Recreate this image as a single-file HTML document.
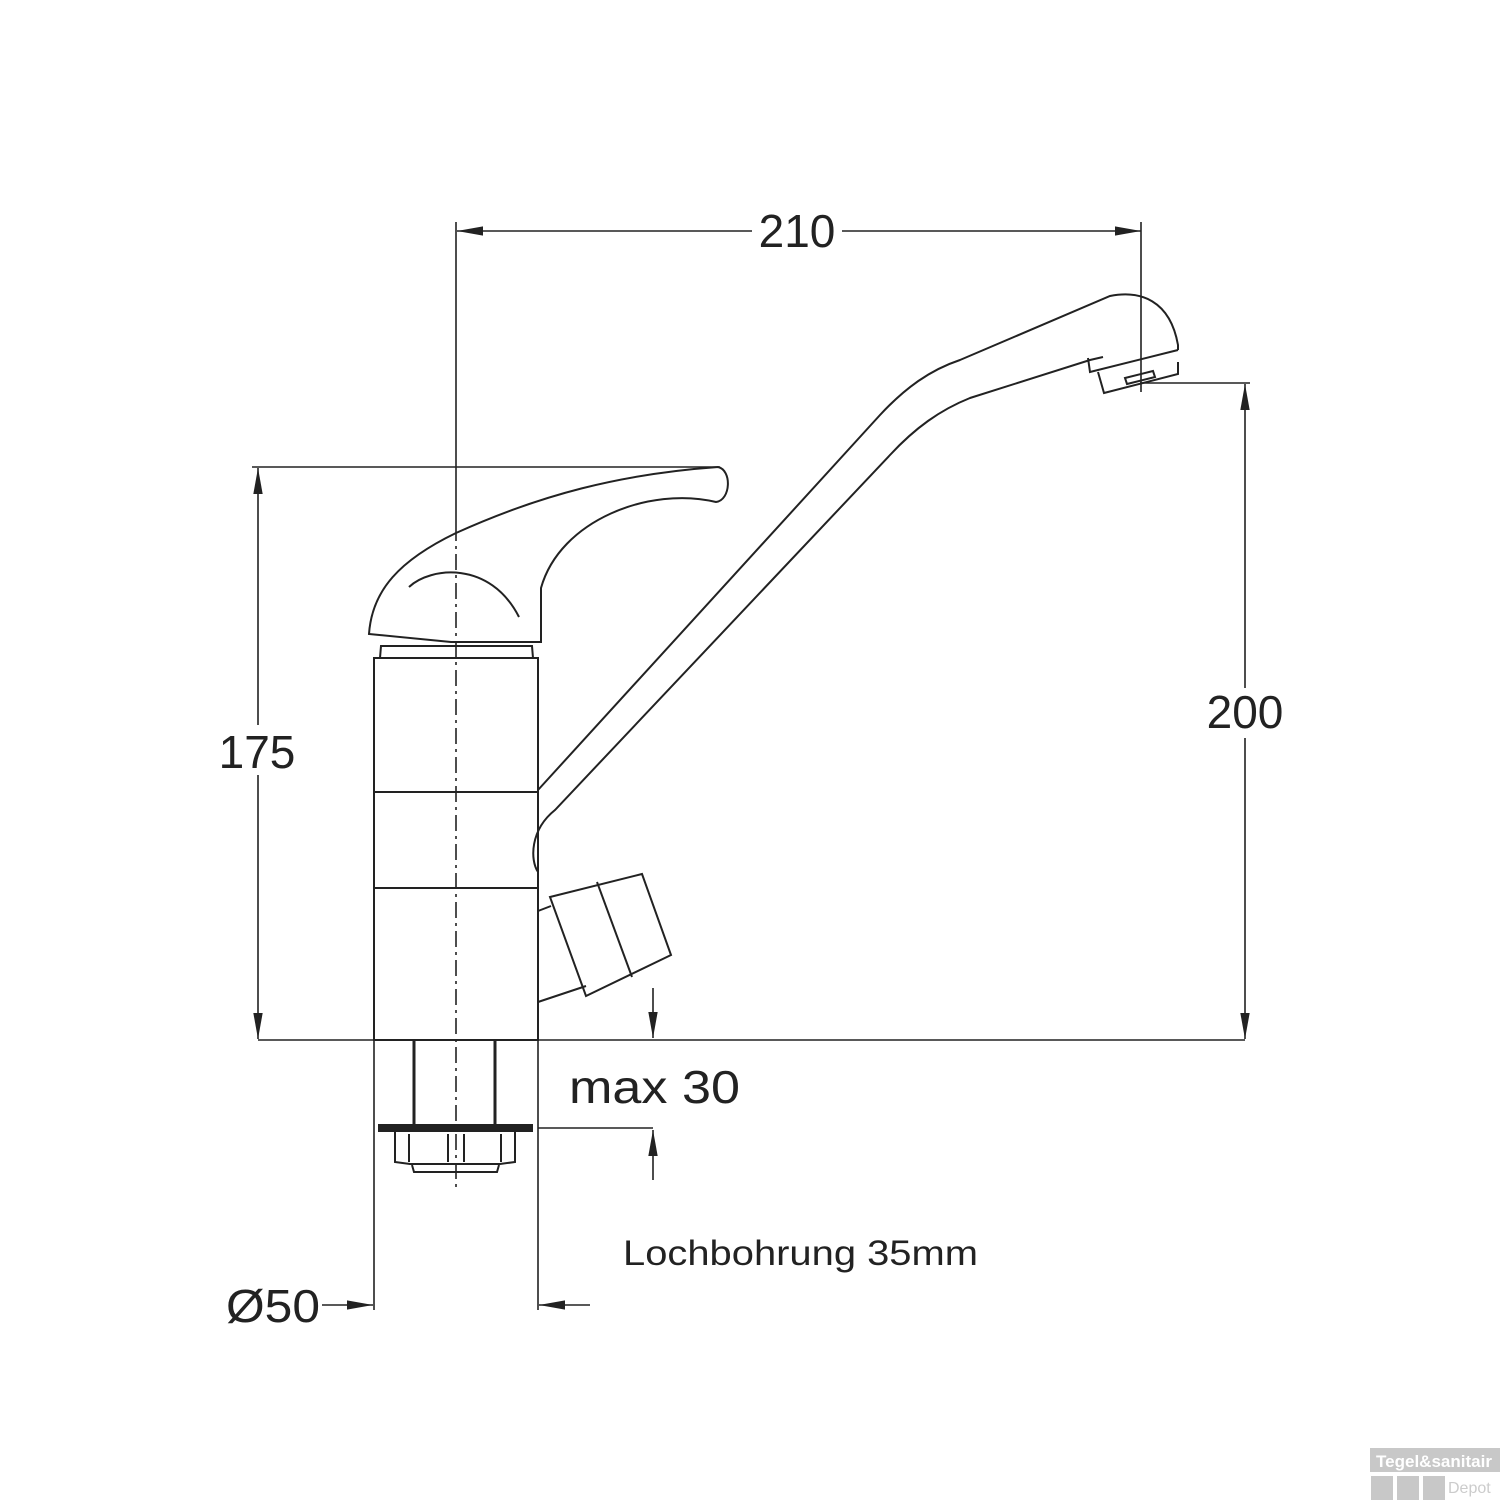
<!DOCTYPE html>
<html><head><meta charset="utf-8"><style>html,body{margin:0;padding:0;background:#fff}svg{display:block}</style></head>
<body>
<svg width="1500" height="1500" viewBox="0 0 1500 1500" xmlns="http://www.w3.org/2000/svg">
<defs>
<marker id="a" viewBox="0 0 10 10" refX="10" refY="5" markerWidth="26" markerHeight="26" markerUnits="userSpaceOnUse" orient="auto-start-reverse"><path d="M0,3.2 L10,5 L0,6.8 z" fill="#222"/></marker>
</defs>
<g fill="none" stroke="#222" stroke-width="2">
<line x1="457" y1="231" x2="1141" y2="231" marker-start="url(#a)" marker-end="url(#a)" stroke-width="1.6"/>
<line x1="1141" y1="222" x2="1141" y2="392" stroke-width="1.6"/>
<line x1="456" y1="222" x2="456" y2="525" stroke-width="1.6"/>
<line x1="456" y1="525" x2="456" y2="1188" stroke-width="1.6" stroke-dasharray="16,5,3,5"/>
<line x1="252" y1="467" x2="720" y2="467" stroke-width="1.6"/>
<line x1="258" y1="468" x2="258" y2="1039" marker-start="url(#a)" marker-end="url(#a)" stroke-width="1.6"/>
<line x1="1140" y1="383" x2="1250" y2="383" stroke-width="1.6"/>
<line x1="1245" y1="384" x2="1245" y2="1039" marker-start="url(#a)" marker-end="url(#a)" stroke-width="1.6"/>
<line x1="258" y1="1040" x2="1245" y2="1040" stroke-width="1.6"/>
<rect x="374" y="658" width="164" height="382"/>
<line x1="374" y1="792" x2="538" y2="792"/>
<line x1="374" y1="888" x2="538" y2="888"/>
<path d="M380,658 L381,646 L532,646 L533,658"/>
<path d="M369,634 C372,590 400,560 456,533 C540,495 620,474 718,467 C732,470 731,500 716,502 C650,486 560,520 541,588 L541,642 L451,642 L369,634 Z"/>
<path d="M409,587 C430,567 490,560 519,617"/>
<path d="M538,790 L880,415 C905,388 930,370 960,360 L1110,296 C1140,290 1170,300 1178,345 L1178,350"/>
<path d="M538,872 C530,860 530,830 555,810 L890,455 C915,428 940,410 970,398 L1090,360 L1103,357"/>
<path d="M1088,358 L1090,372 L1178,350"/>
<path d="M1098,372 L1104,393 L1178,374 L1178,362"/>
<path d="M1125,378 L1153,371 L1155,377 L1127,384 Z"/>
<path d="M538,911 L551,906"/>
<path d="M538,1002 L586,986"/>
<path d="M550,897 L642,874 L671,955 L586,996 Z"/>
<line x1="597" y1="882" x2="632" y2="977"/>
<line x1="653" y1="988" x2="653" y2="1038" marker-end="url(#a)" stroke-width="1.6"/>
<line x1="538" y1="1128" x2="653" y2="1128" stroke-width="1.6"/>
<line x1="653" y1="1180" x2="653" y2="1130" marker-end="url(#a)" stroke-width="1.6"/>
<line x1="414" y1="1040" x2="414" y2="1126" stroke-width="3"/>
<line x1="495" y1="1040" x2="495" y2="1126" stroke-width="3"/>
<rect x="379" y="1125" width="153" height="6" fill="#222"/>
<path d="M395,1131 L395,1162 L410,1164 L500,1164 L515,1162 L515,1131"/>
<path d="M409,1134 L409,1162 M501,1134 L501,1162 M448,1134 L448,1162 M464,1134 L464,1162"/>
<path d="M412,1165 L414,1172 L497,1172 L499,1165"/>
<line x1="374" y1="1040" x2="374" y2="1310" stroke-width="1.6"/>
<line x1="538" y1="1040" x2="538" y2="1310" stroke-width="1.6"/>
<line x1="322" y1="1305" x2="373" y2="1305" marker-end="url(#a)" stroke-width="1.6"/>
<line x1="590" y1="1305" x2="539" y2="1305" marker-end="url(#a)" stroke-width="1.6"/>
</g>
<rect x="752" y="205" width="90" height="50" fill="#fff"/>
<rect x="212" y="725" width="90" height="50" fill="#fff"/>
<rect x="1200" y="688" width="90" height="50" fill="#fff"/>
<g font-family="Liberation Sans, sans-serif" fill="#222">
<text x="797" y="247" font-size="46" text-anchor="middle">210</text>
<text x="257" y="768" font-size="46" text-anchor="middle">175</text>
<text x="1245" y="728" font-size="46" text-anchor="middle">200</text>
<text x="569" y="1103" font-size="46" textLength="171" lengthAdjust="spacingAndGlyphs">max 30</text>
<text x="623" y="1265" font-size="35" textLength="355" lengthAdjust="spacingAndGlyphs">Lochbohrung 35mm</text>
<text x="226" y="1322" font-size="46" textLength="94" lengthAdjust="spacingAndGlyphs">Ø50</text>
</g>
<rect x="1370" y="1448" width="130" height="24" fill="#c8c8c8"/>
<text x="1434" y="1467" font-family="Liberation Sans, sans-serif" font-weight="bold" font-size="17" fill="#fff" text-anchor="middle">Tegel&amp;sanitair</text>
<rect x="1371" y="1476" width="22" height="24" fill="#c8c8c8"/>
<rect x="1397" y="1476" width="22" height="24" fill="#c8c8c8"/>
<rect x="1423" y="1476" width="22" height="24" fill="#c8c8c8"/>
<text x="1448" y="1493" font-family="Liberation Sans, sans-serif" font-size="16" fill="#ccc">Depot</text>
</svg>
</body></html>
